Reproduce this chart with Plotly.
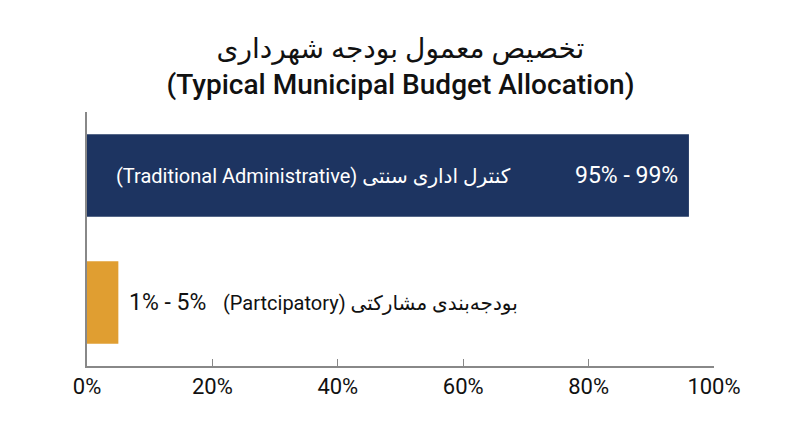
import plotly.graph_objects as go

# Budget shares (percent of municipal budget)
categories = ["Traditional Administrative", "Participatory"]
labels_fa = ["کنترل اداری سنتی", "بودجه‌بندی مشارکتی"]
labels_en = ["(Traditional Administrative)", "(Partcipatory)"]
range_text = ["95% - 99%", "1% - 5%"]
bar_values = [96, 5]
bar_colors = ["#1d3461", "#e09e31"]
text_colors = ["white", "#111111"]

x_ticks = [0, 20, 40, 60, 80, 100]
x_tick_text = ["0%", "20%", "40%", "60%", "80%", "100%"]

FONT = "Roboto, DejaVu Sans, sans-serif"

fig = go.Figure()
fig.add_trace(go.Bar(
    x=bar_values, y=categories, orientation="h",
    marker=dict(color=bar_colors, line=dict(width=0)),
    width=0.65, hoverinfo="skip", showlegend=False,
))

# label inside / next to each bar
fig.add_annotation(x=4.3, y=categories[0], xref="x", yref="y",
                   text=labels_en[0] + " " + labels_fa[0],
                   xanchor="left", showarrow=False,
                   font=dict(family=FONT, size=20, color=text_colors[0]))
fig.add_annotation(x=94.6, y=categories[0], xref="x", yref="y",
                   text=range_text[0], xanchor="right", showarrow=False,
                   font=dict(family=FONT, size=23, color=text_colors[0]))
fig.add_annotation(x=6.4, y=categories[1], xref="x", yref="y",
                   text=range_text[1], xanchor="left", showarrow=False,
                   font=dict(family=FONT, size=23, color=text_colors[1]))
fig.add_annotation(x=21.3, y=categories[1], xref="x", yref="y",
                   text=labels_en[1] + " " + labels_fa[1],
                   xanchor="left", showarrow=False,
                   font=dict(family=FONT, size=20, color=text_colors[1]))

fig.update_layout(
    width=800, height=447,
    margin=dict(l=79, r=94, t=104, b=89),
    paper_bgcolor="white", plot_bgcolor="white",
    title=dict(
        text="تخصیص معمول بودجه شهرداری<br>(Typical Municipal Budget Allocation)",
        x=(79 + 706) / 2 / 800, xanchor="center", y=1 - 50 / 447, yanchor="middle",
        font=dict(family=FONT, size=28, color="#111111", weight=500),
    ),
    xaxis=dict(
        range=[0, 100], tickmode="array", tickvals=x_ticks, ticktext=x_tick_text,
        showgrid=False, zeroline=False,
        showline=True, linecolor="#888888", linewidth=1.5,
        ticks="inside", ticklen=7, tickcolor="#888888",
        tickfont=dict(family=FONT, size=22, color="#111111"),
    ),
    yaxis=dict(
        categoryorder="array", categoryarray=categories[::-1],
        range=[-0.5, 1.5],
        showticklabels=False, showgrid=False, zeroline=False,
        showline=True, linecolor="#888888", linewidth=1.5,
    ),
)

fig.write_html("out.html")
